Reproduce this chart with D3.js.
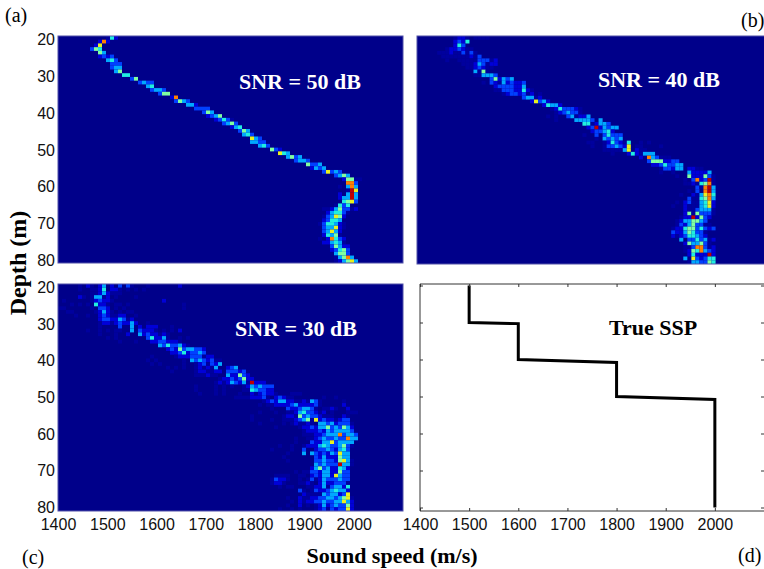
<!DOCTYPE html>
<html>
<head>
<meta charset="utf-8">
<script src="https://d3js.org/d3.v7.min.js"></script>
<style>
html,body{margin:0;padding:0;background:#fff;}
svg{display:block;}
</style>
</head>
<body>
<svg id="chart" width="764" height="569"></svg>
<script>
// Depths (m) of the image rows, and speed width of one image column (m/s)
const depthBins = d3.range(20, 81);
const speedBin = 700 / 86.25;
const speedTicks = [1400, 1500, 1600, 1700, 1800, 1900, 2000];
const depthTicks = [20, 30, 40, 50, 60, 70, 80];

// One string per depth row: "column:intensities"; intensity 1..9, '.' = empty
const snr50 = [
"12:152","10:282","9:27","8:365","10:64","10:2323","12:453","13:333","13:344","14:46",
"16:55","18:36","20:3433","22:45","23:3443","25:366","28:28","29:3643","32:442","34:3333",
"36:364","37:2346","39:23531","41:3463","43:245","45:364","46:453","48:743","48:4433","50:453",
"53:632","55:754","57:4634","59:3443","62:6334","63:2434","66:37343","69:3464","71:26611","72:883",
"70:1.484","72:197","70:2.494","70:24494","71:5673","69:1535","66:112463312","67:245531","66:134762","66:23554",
"65:1355421","66:344721","66:34742","66:25461","65:1.28532","66:224541","68:36422","68:23563","69:4663","69:14684",
"69:124674"
];
const snr40 = [
"9:1221.1111","9:2325","9:253","7:1223211","5:1112113131","6:1111111213","7:1..1111133312","11:111243122","12:1123211","14:4161",
"14:114443","18:362434","16:1.321423223","19:23333224","19:1133322521","21:12332312.1","26:34412","28:27342","31:25442","33:12533321",
"34:1234331","32:1.1..341224","34:1....44443.4","41:5512443","42:23924344","43:233452","41:1..3.35333","44:1.43434","42:11..1253215..1.1","43:1..1334327.11....1",
"46:1111147.211","48:1...2521444","55:2.843111","57:36662233","58:22353344","60:133244.2211","60:1..1...422224","64:1..6222631","66:1.382391","66:11215681",
"69:31894","67:1.3.894","65:1..214785","67:3115684","64:1.23114572","63:1..21114572","66:21134441","66:26163331","65:12292632","64:12446643",
"64:132463311","63:12256635323","63:322465331","63:212355432","65:4.3353412","66:2644631","66:11388312","66:12658432","67:2522292","66:4.732355",
"67:1443365"
];
const snr30 = [
"5:1 7:21 10:24 13:2 15:3 17:31 22:1 30:2","5:1 8:1125 13:221 17:1 19:1 21:1","8:11242111","5:21 8:14412 14:1 19:1","1:1 8:123221 26:2",
"3:1 5:1 7:1 9:5221 14:11 17:1 31:1","0:11 8:1 10:332 14:1 16:1 31:1","2:11 9:12421 15:1 17:11","4:1 7:1 10:2321122 19:1","10:233224312",
"10:1221232242 22:1","10:1 15:3 18:4 20:2 22:222 28:1","7:1 10:1 12:1 14:11 18:4 20:32221 26:1 28:1 30:2","10:1 14:1 17:2 20:42322121","12:1 14:1 22:352241 30:1 32:1",
"15:1 19:1 23:22332221","25:43533421","27:2326344332","28:223523343","23:1 29:1222333122",
"22:1 24:1 31:1 33:43432311","23:1 25:1 31:1 34:1231324","27:1 29:1 31:1 34:121214 42:234","28:1 34:1221122 42:33323","34:111211 42:422632",
"40:122323622","39:1212432419222","34:1 39:1 41:1 43:1 46:12434333","34:1 39:1 41:1 46:11543322","35:1 39:1 41:1 45:1 48:2123221 58:111",
"44:111122231.23211 66:1 69:1","51:123244221121431 71:1","50:1 52:11222234222231 71:2","53:1 57:32234431 66:1121 72:2","50:1 54:1 57:1124533212 68:1 72:111",
"48:1 56:1221634332111 71:21","48:1 53:1 56:11123461723221233","50:1 56:1 58:121121 65:443423331","54:1 60:12232446343642","61:1222324344443",
"61:11122344483443","59:1 62:1123433433844","59:1 63:32244734444","55:1 58:1 61:1222454334631","53:1 58:1 61:3 64:233432453",
"57:1 61:4 63:4323243744","56:1 64:324222644","57:1 64:3343326741","64:4343339441","63:2463422542",
"59:1 61:113324422633","54:1111 60:11 63:2324427433","53:13221 60:1 62:13124333433","53:1221 60:1121 65:24223331","55:1 57:11 62:11224134425",
"60:31 63:1322345442","61:211114344237","57:1 60:21122334434671","58:1 60:21223343344742","57:1 60:2 62:1 64:1242343362",
"55:1 58:1 60:1 64:1231323372"
];

// True sound speed profile
const sspSpeed = [1500, 1500, 1600, 1600, 1800, 1800, 2000, 2000];
const sspDepth = [20, 30, 30.3, 40, 40.8, 50, 50.8, 80];

const jetColors = ["#00008a","#00009e","#0000d8","#0040ff","#00a8ff","#20eee0","#80ffa0","#e8f020","#ff8000","#c00000"];
const color = d3.scaleOrdinal(d3.range(10), jetColors);

function parseRows(rows) {
  const cells = [];
  rows.forEach((row, r) => {
    row.split(" ").forEach(seg => {
      const [start, digits] = seg.split(":");
      [...digits].forEach((ch, i) => {
        if (ch !== ".") cells.push({depth: depthBins[r], speed: 1400 + (+start + i) * speedBin, v: +ch});
      });
    });
  });
  return cells;
}

const svg = d3.select("#chart");
const fontSans = "'Liberation Sans', Arial, sans-serif";
const fontSerif = "'Liberation Serif', 'Times New Roman', serif";

function frame(p) {
  const x = d3.scaleLinear([1400, 2100], [p.left, p.right]);
  const yBand = d3.scaleBand(depthBins, [p.top, p.bottom]);
  const yTick = d3.scaleLinear([20, 80], [p.top + p.t0, p.bottom - p.t1]);
  return {x, yBand, yTick};
}

function tickLabels(g, axis) {
  g.call(axis);
  g.select(".domain").remove();
  g.selectAll("line").remove();
  g.selectAll("text").attr("fill", "#111").style("font-family", fontSans).style("font-size", "16px");
}

function heatPanel(p, rows) {
  const {x, yBand, yTick} = frame(p);
  const g = svg.append("g");
  g.append("rect").attr("x", p.left).attr("y", p.top)
    .attr("width", p.right - p.left).attr("height", p.bottom - p.top).attr("fill", jetColors[0]);
  const clipId = "clip" + p.id;
  g.append("clipPath").attr("id", clipId).append("rect").attr("x", p.left).attr("y", p.top)
    .attr("width", p.right - p.left).attr("height", p.bottom - p.top);
  g.append("g").attr("clip-path", `url(#${clipId})`).style("filter", "blur(0.35px)")
    .selectAll("rect").data(parseRows(rows)).join("rect")
    .attr("x", d => x(d.speed)).attr("y", d => yBand(d.depth))
    .attr("width", d => x(d.speed + speedBin) - x(d.speed))
    .attr("height", yBand.bandwidth())
    .attr("fill", d => color(d.v));
  g.append("rect").attr("x", p.left).attr("y", p.top)
    .attr("width", p.right - p.left).attr("height", p.bottom - p.top)
    .attr("fill", "none").attr("stroke", "#5050a8").attr("stroke-width", 1);
  if (p.leftLabels) {
    tickLabels(svg.append("g").attr("transform", `translate(${p.left},0)`),
      d3.axisLeft(yTick).tickValues(depthTicks).tickSize(0).tickPadding(3));
  }
  if (p.bottomLabels) {
    tickLabels(svg.append("g").attr("transform", `translate(0,${p.bottom})`),
      d3.axisBottom(x).tickValues(speedTicks).tickFormat(d3.format("d")).tickSize(0).tickPadding(8));
  }
  g.append("text").attr("x", p.tx).attr("y", p.ty).text(p.title)
    .attr("fill", "#fff").style("font-family", fontSerif).style("font-weight", "bold").style("font-size", "22px");
}

heatPanel({id:"a", left:58, right:403, top:36, bottom:263, t0:3.5, t1:2.5, leftLabels:true, title:"SNR = 50 dB", tx:239, ty:89}, snr50);
heatPanel({id:"b", left:417, right:765, top:36, bottom:264, t0:3.5, t1:2.5, title:"SNR = 40 dB", tx:598, ty:87}, snr40);
heatPanel({id:"c", left:58, right:403, top:284, bottom:511, t0:3.5, t1:3.5, leftLabels:true, bottomLabels:true, title:"SNR = 30 dB", tx:235, ty:336}, snr30);

// Panel d: true profile
(function () {
  const p = {left:420, right:764, top:284, bottom:511, t0:1.5, t1:3.5};
  const {x, yTick} = frame(p);
  const g = svg.append("g");
  g.append("path").attr("d", `M${p.right+1},${p.top}H${p.left}V${p.bottom}H${p.right+1}`)
    .attr("fill", "none").attr("stroke", "#333").attr("stroke-width", 1);
  const small = g2 => { g2.select(".domain").remove(); g2.selectAll("line").attr("stroke", "#333"); g2.selectAll("text").remove(); };
  const xT = d3.scaleLinear([1400, 2100], [p.left, p.right]);
  svg.append("g").attr("transform", `translate(0,${p.bottom})`)
    .call(d3.axisTop(xT).tickValues(speedTicks).tickSize(3)).call(small);
  svg.append("g").attr("transform", `translate(0,${p.top})`)
    .call(d3.axisBottom(xT).tickValues(speedTicks).tickSize(3)).call(small);
  svg.append("g").attr("transform", `translate(${p.left},0)`)
    .call(d3.axisRight(yTick).tickValues(depthTicks).tickSize(3)).call(small);
  svg.append("g").attr("transform", `translate(${p.right},0)`)
    .call(d3.axisLeft(yTick).tickValues(depthTicks).tickSize(3)).call(small);
  tickLabels(svg.append("g").attr("transform", `translate(0,${p.bottom})`),
    d3.axisBottom(x).tickValues(speedTicks).tickFormat(d3.format("d")).tickSize(0).tickPadding(8));
  const line = d3.line().x(d => x(d[0])).y(d => yTick(d[1])).curve(d3.curveLinear);
  g.append("path").attr("d", line(d3.zip(sspSpeed, sspDepth)))
    .attr("fill", "none").attr("stroke", "#000").attr("stroke-width", 3).attr("stroke-linejoin", "miter");
  g.append("text").attr("x", 609).attr("y", 335).text("True SSP")
    .attr("fill", "#000").style("font-family", fontSerif).style("font-weight", "bold").style("font-size", "22px");
})();

// Shared labels
const label = (x, y, t, opts = {}) => svg.append("text").attr("x", x).attr("y", y).text(t)
  .attr("fill", "#000").attr("transform", opts.rot ? `rotate(-90 ${x} ${y})` : null)
  .attr("text-anchor", opts.anchor || "start")
  .style("font-family", fontSerif).style("font-weight", opts.bold ? "bold" : "normal").style("font-size", (opts.size || 20) + "px");
label(5, 22, "(a)");
label(741, 27, "(b)");
label(22, 564, "(c)");
label(738, 562, "(d)");
label(26, 263, "Depth (m)", {rot:true, bold:true, anchor:"middle", size:24});
label(392, 563, "Sound speed (m/s)", {bold:true, anchor:"middle", size:22});
</script>
</body>
</html>
